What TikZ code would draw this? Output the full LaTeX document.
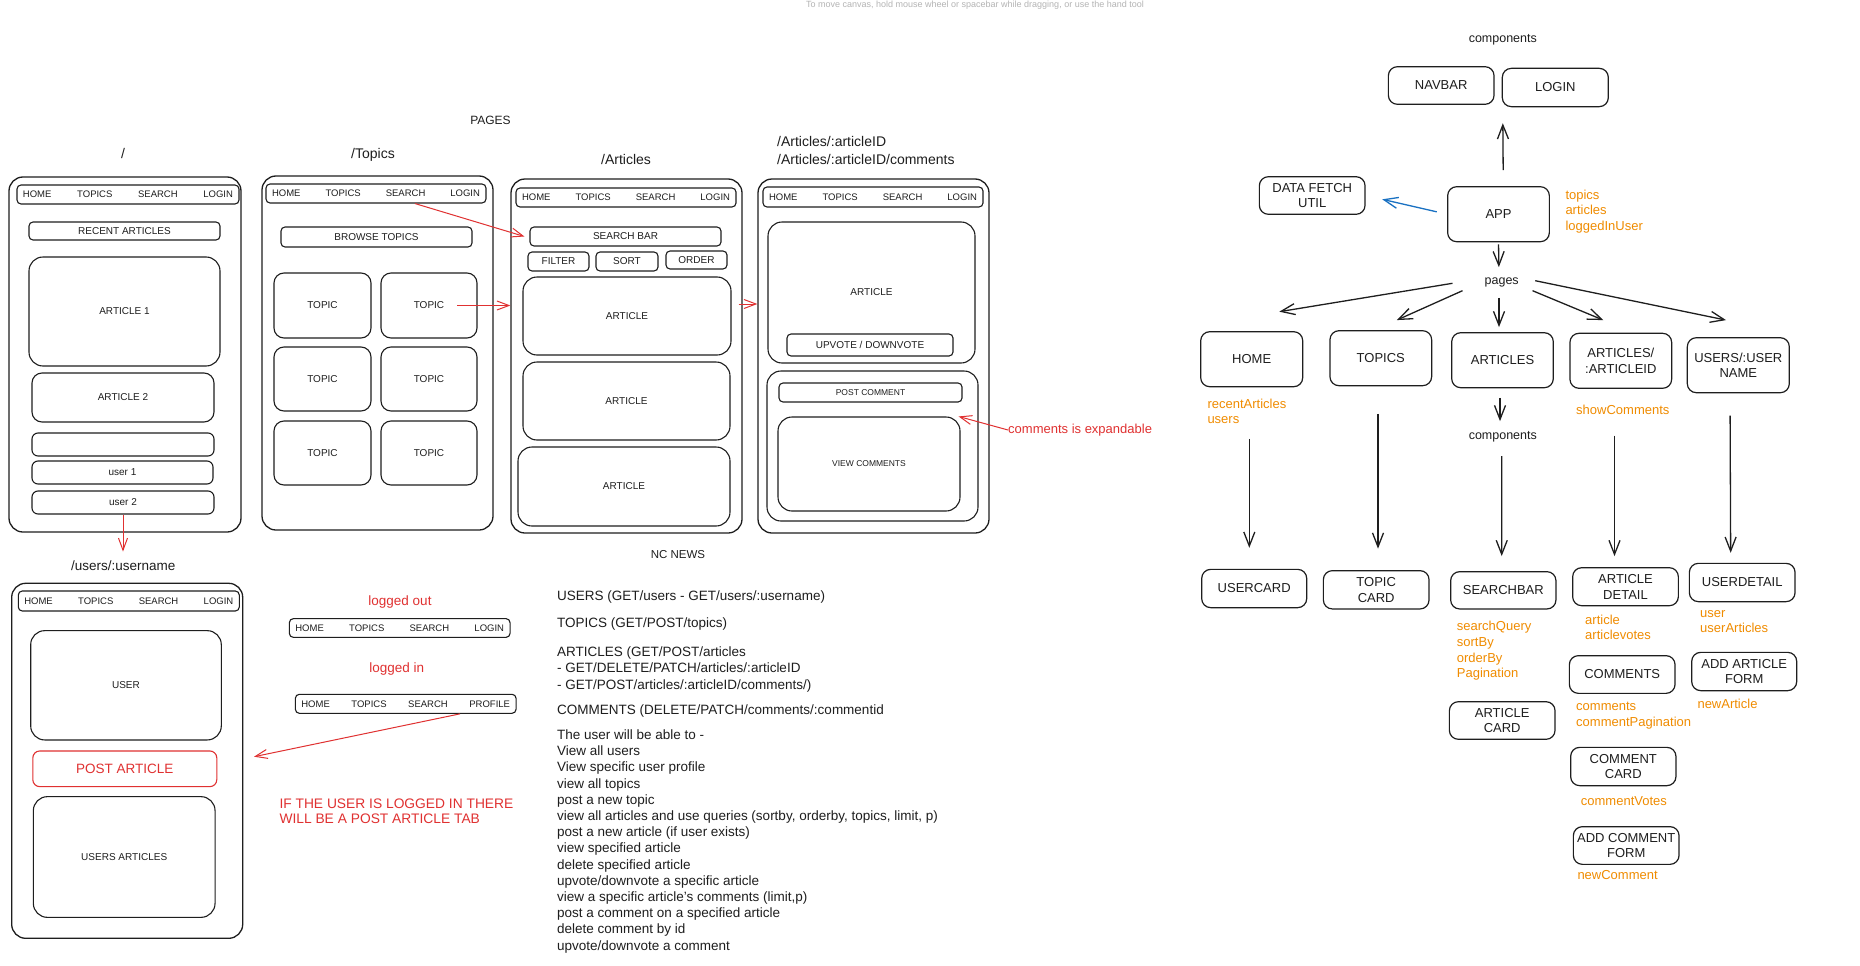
\documentclass[tikz,border=0pt]{standalone}
\usepackage{fontspec}
\setmainfont{Liberation Sans}
\usetikzlibrary{arrows.meta,positioning}

\definecolor{ink}{HTML}{1E1E1E}
\definecolor{redink}{HTML}{E03131}
\definecolor{orangeink}{HTML}{F08C00}
\definecolor{blueink}{HTML}{1971C2}
\definecolor{hintgray}{HTML}{B4B4B4}

\tikzset{
  pageframe/.style={draw=ink, line width=1.3pt, rounded corners=14pt, inner sep=0pt},
  wbox/.style={draw=ink, line width=1.1pt, rounded corners=10pt, inner sep=0pt, text=ink,
    font=\fontsize{10}{12}\selectfont},
  bar/.style={draw=ink, line width=1.1pt, rounded corners=4pt, inner sep=0pt, text=ink,
    font=\fontsize{10}{12}\selectfont},
  navbar/.style={draw=ink, line width=1.1pt, rounded corners=4pt, inner xsep=6pt, inner ysep=0pt,
    minimum height=19pt, text=ink, font=\fontsize{9.5}{11}\selectfont},
  comp/.style={draw=ink, line width=1.2pt, rounded corners=9pt, align=center, inner sep=0pt,
    text=ink, font=\fontsize{13}{15.7}\selectfont},
  pagetitle/.style={inner sep=0pt, text=ink, font=\fontsize{14}{16}\selectfont},
  heading/.style={inner sep=0pt, text=ink, font=\fontsize{12.5}{14}\selectfont},
  note/.style={inner sep=0pt, text=orangeink, align=left, anchor=north west,
    font=\fontsize{13}{15.7}\selectfont},
  rednote/.style={inner sep=0pt, text=redink, font=\fontsize{13.5}{15}\selectfont},
  apitext/.style={inner sep=0pt, text=ink, align=left, font=\fontsize{13.5}{16.3}\selectfont},
  arr/.style={draw=ink, line width=1.3pt, -{Straight Barb[length=14pt,width=11pt]}},
  redarr/.style={draw=redink, line width=1pt, -{Straight Barb[length=12pt,width=9pt]}}
}

\begin{document}
\begin{tikzpicture}[x=1pt, y=-1pt]
\useasboundingbox[fill=white] (0,0) rectangle (1860,966);

\node[text=hintgray, inner sep=0pt, anchor=north, font=\fontsize{9}{10}\selectfont] (hint) at (975,0.5)
  {To move canvas, hold mouse wheel or spacebar while dragging, or use the hand tool};

% titles
\node[heading, font=\fontsize{12}{14}\selectfont] (pagesTitle) at (490.5,120.7) {PAGES};
\node[pagetitle] (tHome) at (123,153) {/};
\node[pagetitle] (tTopics) at (373,155) {/Topics};
\node[pagetitle] (tArticles) at (626,159) {/Articles};
\node[pagetitle, anchor=west] (tDetail) at (777,141) {/Articles/:articleID};
\node[pagetitle, anchor=west] (tComments) at (777,159) {/Articles/:articleID/comments};
\node[pagetitle, font=\fontsize{13.5}{15}\selectfont] (tUser) at (123.3,565.7) {/users/:username};

% home page
\node[pageframe, minimum width=232, minimum height=355] (frHome) at (125,354.5) {};
\node[navbar] (navHome) at (128,194.5) {\makebox[210pt]{HOME\hfill TOPICS\hfill SEARCH\hfill LOGIN}};
\node[bar, minimum width=191, minimum height=18] (recent) at (124.5,231) {RECENT ARTICLES};
\node[wbox, rounded corners=14pt, minimum width=191, minimum height=109] (art1) at (124.5,311.5) {ARTICLE 1};
\node[wbox, minimum width=182, minimum height=49] (art2) at (123,397.5) {ARTICLE 2};
\node[bar, rounded corners=6pt, minimum width=182, minimum height=23] (userRow) at (123,444.5) {};
\node[bar, rounded corners=6pt, minimum width=181, minimum height=23] (user1) at (122.5,472.5) {user 1};
\node[bar, rounded corners=6pt, minimum width=182, minimum height=23] (user2) at (123,502.5) {user 2};

% topics page
\node[pageframe, minimum width=231, minimum height=354] (frTopics) at (377.5,353) {};
\node[navbar] (navTopics) at (376,193.5) {\makebox[208pt]{HOME\hfill TOPICS\hfill SEARCH\hfill LOGIN}};
\node[bar, minimum width=191, minimum height=20] (browse) at (376.5,237) {BROWSE TOPICS};
\node[wbox, minimum width=97, minimum height=65] (topicA) at (322.5,305.5) {TOPIC};
\node[wbox, minimum width=96, minimum height=65] (topicB) at (429,305.5) {TOPIC};
\node[wbox, minimum width=97, minimum height=64] (topicC) at (322.5,379) {TOPIC};
\node[wbox, minimum width=96, minimum height=64] (topicD) at (429,379) {TOPIC};
\node[wbox, minimum width=97, minimum height=64] (topicE) at (322.5,453) {TOPIC};
\node[wbox, minimum width=96, minimum height=64] (topicF) at (429,453) {TOPIC};

% articles page
\node[pageframe, minimum width=231, minimum height=354] (frArticles) at (626.5,356) {};
\node[navbar] (navArticles) at (626,197.5) {\makebox[208pt]{HOME\hfill TOPICS\hfill SEARCH\hfill LOGIN}};
\node[bar, minimum width=191, minimum height=19] (searchBar) at (625.5,236.5) {SEARCH BAR};
\node[bar, minimum width=61, minimum height=19] (filter) at (558.5,261.5) {FILTER};
\node[bar, minimum width=62, minimum height=19] (sort) at (627,261.5) {SORT};
\node[bar, minimum width=61, minimum height=18] (order) at (696.5,260) {ORDER};
\node[wbox, rounded corners=14pt, minimum width=208, minimum height=78] (artA) at (627,316) {ARTICLE};
\node[wbox, rounded corners=14pt, minimum width=207, minimum height=78] (artB) at (626.5,401) {ARTICLE};
\node[wbox, rounded corners=14pt, minimum width=212, minimum height=79] (artC) at (624,486.5) {ARTICLE};

% article detail page
\node[pageframe, minimum width=231, minimum height=354] (frDetail) at (873.5,356) {};
\node[navbar, minimum height=20] (navDetail) at (873,197) {\makebox[208pt]{HOME\hfill TOPICS\hfill SEARCH\hfill LOGIN}};
\node[wbox, rounded corners=14pt, minimum width=207, minimum height=141] (artBig) at (871.5,292.5) {ARTICLE};
\node[bar, minimum width=166, minimum height=22] (vote) at (870,345) {UPVOTE / DOWNVOTE};
\node[wbox, rounded corners=14pt, minimum width=211, minimum height=150] (commentBox) at (872.5,446) {};
\node[bar, minimum width=183, minimum height=19, font=\fontsize{8.5}{10}\selectfont] (postComment) at (870.5,392.5) {POST COMMENT};
\node[wbox, rounded corners=14pt, minimum width=182, minimum height=94, font=\fontsize{8.5}{10}\selectfont] (viewComments) at (869,464) {VIEW COMMENTS};
\node[rednote, anchor=west, font=\fontsize{13}{15}\selectfont] (expandNote) at (1008,430) {comments is expandable};

% user page
\node[pageframe, minimum width=231, minimum height=355] (frUser) at (127.2,760.8) {};
\node[navbar, minimum height=20] (navUser) at (128.8,601) {\makebox[209pt]{HOME\hfill TOPICS\hfill SEARCH\hfill LOGIN}};
\node[wbox, rounded corners=14pt, minimum width=190.6, minimum height=109.3] (userBox) at (126,685.3) {USER};
\node[wbox, draw=redink, text=redink, rounded corners=7pt, minimum width=184, minimum height=35.7,
  font=\fontsize{13.5}{15}\selectfont] (postArticle) at (124.8,768.8) {POST ARTICLE};
\node[wbox, rounded corners=14pt, minimum width=181.7, minimum height=120.7] (usersArticles) at (124.2,857) {USERS ARTICLES};

% navbar states
\node[rednote] (outTitle) at (400,601.7) {logged out};
\node[navbar, minimum height=18.7] (navOut) at (399.7,628) {\makebox[208.7pt]{HOME\hfill TOPICS\hfill SEARCH\hfill LOGIN}};
\node[rednote] (inTitle) at (396.7,669) {logged in};
\node[navbar] (navIn) at (405.7,703.8) {\makebox[208.7pt]{HOME\hfill TOPICS\hfill SEARCH\hfill PROFILE}};
\node[rednote, anchor=north west, align=left, font=\fontsize{13.8}{15}\selectfont] (tabNote) at (279.3,798.4)
  {IF THE USER IS LOGGED IN THERE\\WILL BE A POST ARTICLE TAB};
\coordinate (postTip) at (254,756.7);

% red connectors
\draw[redarr] ([xshift=39pt]navTopics.south) -- ([xshift=-5pt]searchBar.west);
\draw[redarr] ([xshift=28pt]topicB.center) -- (frArticles.west |- topicB.center);
\draw[redarr] ([xshift=-4pt,yshift=52pt]frArticles.east) -- ([yshift=52pt]frDetail.west);
\draw[redarr] (expandNote.west) -- ([xshift=-2pt]viewComments.north east);
\draw[redarr, shorten >=9pt] (user2.south) -- (user2.south |- tUser.north);
\draw[redarr] ([xshift=54.3pt]navIn.south) -- (postTip);

% api notes
\node[heading, font=\fontsize{11.5}{13}\selectfont] (ncNews) at (678,555) {NC NEWS};
\node[apitext, anchor=west] (apiUsers) at (557,597) {USERS (GET/users - GET/users/:username)};
\node[apitext, anchor=west] (apiTopics) at (557,624) {TOPICS (GET/POST/topics)};
\node[apitext, anchor=north west] (apiArticles) at (557,646.5) {ARTICLES (GET/POST/articles\\
  - GET/DELETE/PATCH/articles/:articleID\\
  - GET/POST/articles/:articleID/comments/)};
\node[apitext, anchor=west] (apiComments) at (557,711) {COMMENTS (DELETE/PATCH/comments/:commentid};
\node[apitext, anchor=north west, font=\fontsize{13.5}{16.2}\selectfont] (abilities) at (557,729.5) {The user will be able to -\\
  View all users\\
  View specific user profile\\
  view all topics\\
  post a new topic\\
  view all articles and use queries (sortby, orderby, topics, limit, p)\\
  post a new article (if user exists)\\
  view specified article\\
  delete specified article\\
  upvote/downvote a specific article\\
  view a specific article's comments (limit,p)\\
  post a comment on a specified article\\
  delete comment by id\\
  upvote/downvote a comment};

% component tree
\node[heading] (compTop) at (1502.8,40) {components};
\node[comp, minimum width=105.7, minimum height=37.6] (cNavbar) at (1441.2,85.5) {NAVBAR};
\node[comp, minimum width=106, minimum height=38.3] (cLogin) at (1555.3,87.5) {LOGIN};
\node[comp, minimum width=101.7, minimum height=55] (app) at (1498.5,214.2) {APP};
\node[comp, minimum width=105.7, minimum height=37.6] (dataFetch) at (1312.2,195.5) {DATA FETCH\\UTIL};
\node[note] (appNote) at (1565.3,189.5) {topics\\articles\\loggedInUser};
\node[heading] (pages) at (1501.7,282) {pages};

\node[comp, minimum width=102, minimum height=55] (pHome) at (1251.7,359.2) {HOME};
\node[comp, minimum width=101.7, minimum height=55] (pTopics) at (1380.8,358.2) {TOPICS};
\node[comp, minimum width=101.6, minimum height=55] (pArticles) at (1502.5,360.2) {ARTICLES};
\node[comp, minimum width=101.7, minimum height=55] (pDetail) at (1620.8,360.8) {ARTICLES/\\:ARTICLEID};
\node[comp, minimum width=102, minimum height=55] (pUsers) at (1738.3,365.2) {USERS/:USER\\NAME};
\node[note] (homeNote) at (1207.3,398.5) {recentArticles\\users};
\node[note] (detailNote) at (1576,404.5) {showComments};
\node[heading] (compMid) at (1502.8,436.7) {components};

\node[comp, minimum width=105, minimum height=38.3] (cUserCard) at (1254.2,588.5) {USERCARD};
\node[comp, minimum width=105.7, minimum height=38.3] (cTopicCard) at (1376.2,589.8) {TOPIC\\CARD};
\node[comp, minimum width=105.3, minimum height=37.3] (cSearchBar) at (1503.3,590.3) {SEARCHBAR};
\node[comp, minimum width=105.7, minimum height=38] (cArtDetail) at (1625.5,586.7) {ARTICLE\\DETAIL};
\node[comp, minimum width=105.7, minimum height=38.3] (cUserDetail) at (1742.2,582.5) {USERDETAIL};
\node[note] (searchNote) at (1456.7,621) {searchQuery\\sortBy\\orderBy\\Pagination};
\node[comp, minimum width=105.7, minimum height=37.6] (cArtCard) at (1502.2,720.5) {ARTICLE\\CARD};
\node[note] (artNote) at (1585,614.5) {article\\articlevotes};
\node[comp, minimum width=105.7, minimum height=37.7] (cComments) at (1622.2,674.5) {COMMENTS};
\node[note] (commentsNote) at (1576,702) {comments\\commentPagination};
\node[comp, minimum width=105.3, minimum height=38.3] (cCommentCard) at (1623.3,766.5) {COMMENT\\CARD};
\node[note] (votesNote) at (1580.7,796.5) {commentVotes};
\node[comp, minimum width=105.7, minimum height=37.7] (cAddComment) at (1626.2,845.5) {ADD COMMENT\\FORM};
\node[note] (newCommentNote) at (1577.3,870.5) {newComment};
\node[note] (userNote) at (1700,610) {user\\userArticles};
\node[comp, minimum width=105, minimum height=38.3] (cAddArticle) at (1744.2,671.5) {ADD ARTICLE\\FORM};
\node[note] (newArticleNote) at (1697.3,698.5) {newArticle};

% tree connectors
\draw[arr, shorten <=16pt, shorten >=16pt] ([xshift=4.8pt]app.north) -- ([xshift=1pt]cLogin.south west);
\draw[arr, draw=blueink, shorten <=10.5pt, shorten >=17pt] (app.west) -- (dataFetch.east);
\draw[arr, shorten <=2pt, shorten >=10pt] (app.south) -- ([xshift=-2.7pt]pages.north);
\draw[arr] ([xshift=-32pt,yshift=-1.3pt]pages.west) -- ([xshift=27.6pt,yshift=19.4pt]pHome.north);
\draw[arr] ([xshift=-22pt,yshift=-8.7pt]pages.west) -- ([xshift=16pt,yshift=10pt]pTopics.north);
\draw[arr, shorten <=11pt, shorten >=5pt] ([xshift=-2.7pt]pages.south) -- ([xshift=-3.5pt]pArticles.north);
\draw[arr] ([xshift=13.6pt,yshift=-8.7pt]pages.east) -- ([xshift=-17.5pt,yshift=12.6pt]pDetail.north);
\draw[arr] ([xshift=16.3pt,yshift=1.3pt]pages.east) -- ([xshift=-12.3pt,yshift=17pt]pUsers.north);
\draw[arr, shorten <=51.6pt, shorten >=21pt] ([xshift=-2.4pt]pHome.south) -- ([xshift=-4.9pt]cUserCard.north);
\draw[arr, shorten <=27.6pt, shorten >=21.4pt] ([xshift=-2.8pt]pTopics.south) -- ([xshift=1.8pt]cTopicCard.north);
\draw[arr, shorten <=9.6pt, shorten >=10pt] ([xshift=-2.5pt]pArticles.south) -- ([xshift=-2.8pt]compMid.north);
\draw[arr, shorten <=14pt, shorten >=15pt] ([xshift=-1pt]compMid.south) -- ([xshift=-1.6pt]cSearchBar.north);
\draw[arr, shorten <=46.7pt, shorten >=11pt] ([xshift=-6.3pt]pDetail.south) -- ([xshift=-11pt]cArtDetail.north);
\draw[arr, shorten <=22.3pt, shorten >=10pt] ([xshift=-8.3pt]pUsers.south) -- ([xshift=-11.5pt]cUserDetail.north);
\end{tikzpicture}
\end{document}
